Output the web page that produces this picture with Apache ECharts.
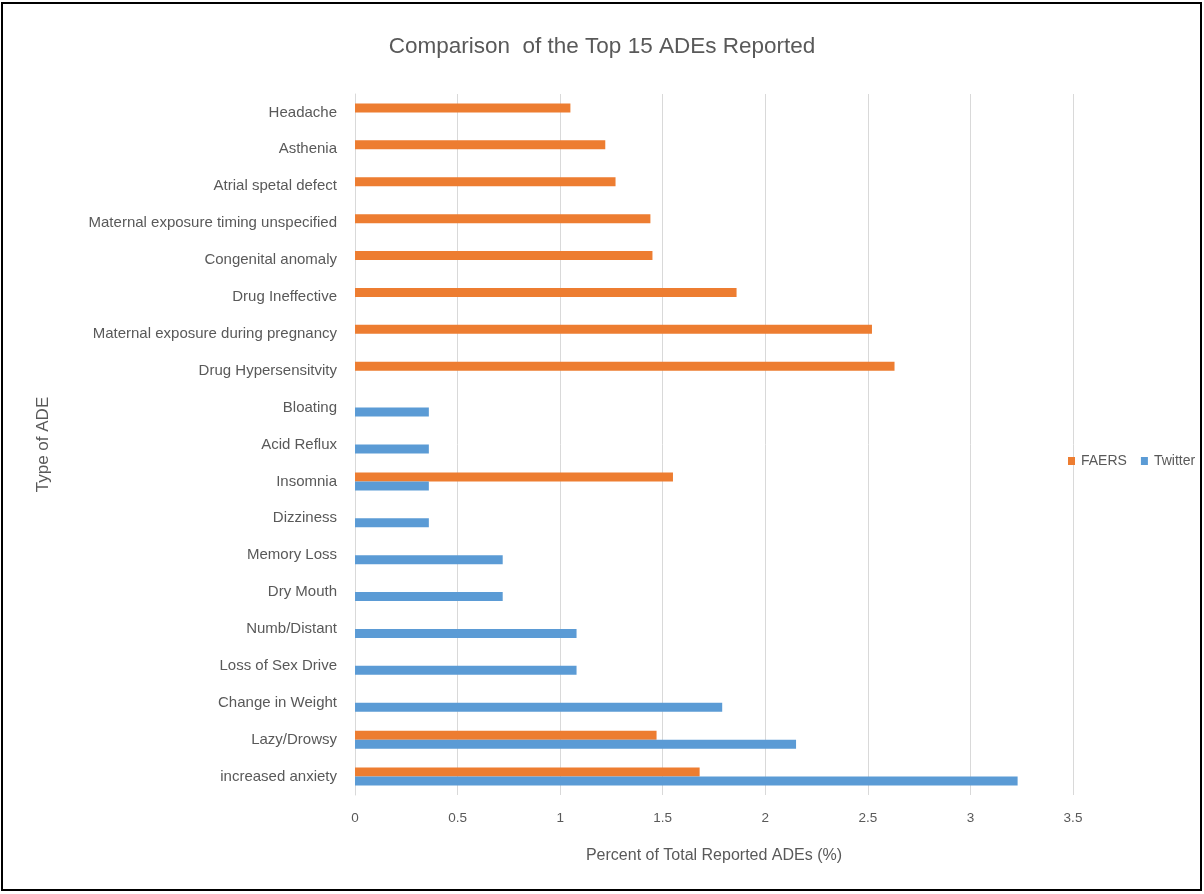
<!DOCTYPE html>
<html>
<head>
<meta charset="utf-8">
<script src="https://cdn.jsdelivr.net/npm/echarts@6/dist/echarts.min.js"></script>
<style>
html,body{margin:0;padding:0;background:#fff;}
#c{width:1204px;height:894px;}
</style>
</head>
<body>
<div id="c"></div>
<script>
var categories = ['increased anxiety','Lazy/Drowsy','Change in Weight','Loss of Sex Drive','Numb/Distant','Dry Mouth','Memory Loss','Dizziness','Insomnia','Acid Reflux','Bloating','Drug Hypersensitvity','Maternal exposure during pregnancy','Drug Ineffective','Congenital anomaly','Maternal exposure timing unspecified','Atrial spetal defect','Asthenia','Headache'];
var faers = [1.68,1.47,null,null,null,null,null,null,1.55,null,null,2.63,2.52,1.86,1.45,1.44,1.27,1.22,1.05];
var twitter = [3.23,2.15,1.79,1.08,1.08,0.72,0.72,0.36,0.36,0.36,0.36,null,null,null,null,null,null,null,null];
var xTicks = [0,0.5,1,1.5,2,2.5,3,3.5];

var txt = '#595959';
var font = 'Liberation Sans';
var chart = echarts.init(document.getElementById('c'));
chart.setOption({
  animation:false,
  backgroundColor:'#fff',
  title:{text:'Comparison  of the Top 15 ADEs Reported',left:'center',top:30,
    textStyle:{color:txt,fontFamily:font,fontSize:22.5,fontWeight:'normal'}},
  graphic:[{type:'rect',shape:{x:2,y:3,width:1199,height:887},style:{fill:'none',stroke:'#000',lineWidth:2},silent:true}],
  legend:{data:['FAERS','Twitter'],left:1063,top:449,itemWidth:7,itemHeight:8,itemGap:14,icon:'rect',
    textStyle:{color:txt,fontFamily:font,fontSize:14,padding:[0,0,0,1]}},
  grid:{left:355,right:131,top:94,bottom:99,containLabel:false},
  xAxis:{type:'value',min:xTicks[0],max:xTicks[xTicks.length-1],interval:0.5,
    name:'Percent of Total Reported ADEs (%)',nameLocation:'middle',nameGap:53,
    nameTextStyle:{color:txt,fontFamily:font,fontSize:16},
    axisLine:{show:false},axisTick:{show:false},
    axisLabel:{color:txt,fontFamily:font,fontSize:13.5,margin:16},
    splitLine:{lineStyle:{color:'#D9D9D9',width:1}}},
  yAxis:{type:'category',data:categories,
    name:'Type of ADE',nameLocation:'middle',nameGap:303,
    nameTextStyle:{color:txt,fontFamily:font,fontSize:17},
    axisLine:{lineStyle:{color:'#D9D9D9'}},axisTick:{show:false},
    axisLabel:{color:txt,fontFamily:font,fontSize:15,margin:18,padding:[4,0,0,0]}},
  series:[
    {name:'FAERS',type:'bar',data:faers,barWidth:9,barGap:'0%',itemStyle:{color:'#ED7D31'}},
    {name:'Twitter',type:'bar',data:twitter,barWidth:9,barGap:'0%',itemStyle:{color:'#5B9BD5'}}
  ]
});
</script>
</body>
</html>
